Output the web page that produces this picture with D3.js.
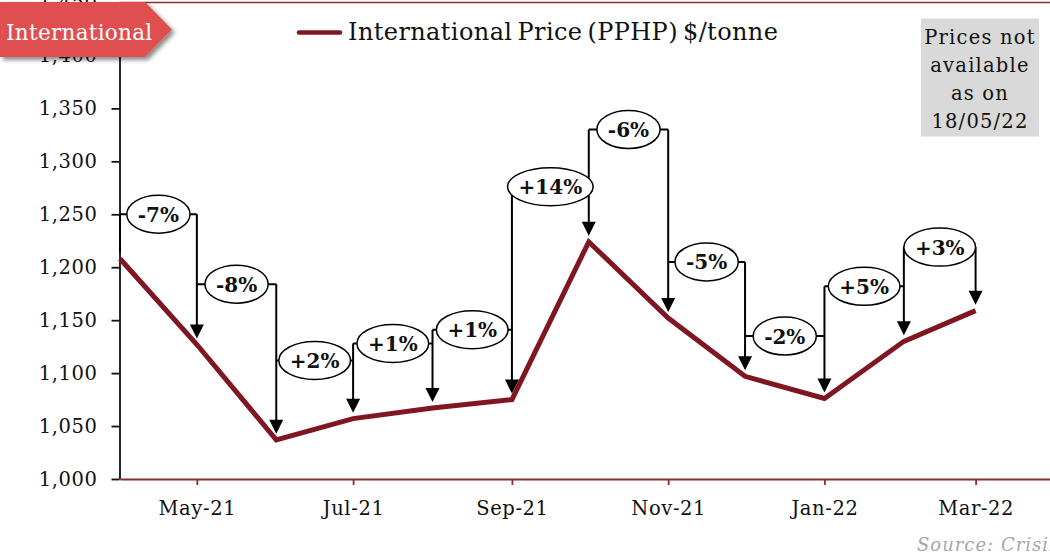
<!DOCTYPE html>
<html>
<head>
<meta charset="utf-8">
<script src="https://cdn.jsdelivr.net/npm/d3@7"></script>
<style>
  html, body { margin: 0; padding: 0; background: #ffffff; }
  svg { display: block; }
  text { font-family: "DejaVu Serif", "Liberation Serif", serif; }
</style>
</head>
<body>
<svg id="chart" width="1050" height="557"></svg>
<script>
// Monthly international price (PPHP), $/tonne
const months = ["2021-04", "2021-05", "2021-06", "2021-07", "2021-08", "2021-09",
                "2021-10", "2021-11", "2021-12", "2022-01", "2022-02", "2022-03"];
const prices = [1208, 1127, 1037, 1057, 1067, 1075, 1224, 1152, 1097, 1076, 1130, 1159];

// Month-on-month change labels (one per step between consecutive months)
const changeLabels = ["-7%", "-8%", "+2%", "+1%", "+1%", "+14%", "-6%", "-5%", "-2%", "+5%", "+3%"];

// Price level (in $/tonne) at which each change bubble sits
const bubbleLevels = [1250, 1184, 1112, 1128, 1141, 1276, 1330, 1205, 1135, 1182, 1219];

// Axis ticks
const yTickValues = [1000, 1050, 1100, 1150, 1200, 1250, 1300, 1350, 1400, 1450];
const xTickMonths = ["2021-05", "2021-07", "2021-09", "2021-11", "2022-01", "2022-03"];

const noteLines = ["Prices not", "available", "as on", "18/05/22"];

(function drawChart() {
  const parse = d3.timeParse("%Y-%m");
  const dates = months.map(parse);
  const series = dates.map((d, i) => ({ date: d, value: prices[i] }));

  const svg = d3.select("#chart");
  const W = 1050, H = 557;
  const plotLeft = 119.5, plotBottom = 479, plotTop = 2.5;

  svg.append("rect").attr("width", W).attr("height", H).attr("fill", "#ffffff");

  const x = d3.scaleTime()
    .domain([parse("2021-04"), parse("2022-04")])
    .range([120, 1055]);
  const y = d3.scaleLinear()
    .domain([1000, 1450])
    .range([plotBottom, plotTop]);

  const LINE = "#7f1622";
  const AXISRED = "#8e2a2a";

  // plot frame (top edge)
  svg.append("line")
    .attr("x1", plotLeft).attr("x2", W).attr("y1", plotTop).attr("y2", plotTop)
    .attr("stroke", AXISRED).attr("stroke-width", 1.5);

  // y axis
  const yAxis = svg.append("g")
    .attr("transform", `translate(${plotLeft},0)`)
    .call(d3.axisLeft(y).tickValues(yTickValues).tickFormat(d3.format(","))
      .tickSize(8).tickSizeOuter(0).tickPadding(14));
  yAxis.select(".domain").attr("stroke", "#1a0a0a").attr("stroke-width", 1.8);
  yAxis.selectAll(".tick line").attr("stroke", "#111").attr("stroke-width", 1.8);
  yAxis.selectAll(".tick text")
    .attr("fill", "#111").attr("font-size", 19.5).attr("letter-spacing", 0.6)
    .attr("font-family", "DejaVu Serif");

  // x axis
  const xAxis = svg.append("g")
    .attr("transform", `translate(0,${plotBottom})`)
    .call(d3.axisBottom(x).tickValues(xTickMonths.map(parse))
      .tickFormat(d3.timeFormat("%b-%y")).tickSize(6).tickSizeOuter(0).tickPadding(16));
  xAxis.select(".domain").attr("stroke", AXISRED).attr("stroke-width", 2.2);
  xAxis.selectAll(".tick line").attr("stroke", AXISRED).attr("stroke-width", 1.8);
  xAxis.selectAll(".tick text")
    .attr("fill", "#111").attr("font-size", 19.5).attr("letter-spacing", 0.6)
    .attr("font-family", "DejaVu Serif");

  // price line
  svg.append("path")
    .datum(series)
    .attr("fill", "none")
    .attr("stroke", LINE)
    .attr("stroke-width", 5)
    .attr("stroke-linejoin", "miter")
    .attr("d", d3.line().x(d => x(d.date)).y(d => y(d.value)));

  // change callouts: bubble between two months, arrow down onto the later month
  const callouts = changeLabels.map((label, i) => ({
    label,
    x0: x(dates[i]), x1: x(dates[i + 1]),
    y0: y(prices[i]), y1: y(prices[i + 1]),
    cy: y(bubbleLevels[i])
  }));

  const gC = svg.append("g");
  const head = 14, gap = 6;
  const bubbleFont = 20;

  // measure label widths to size the bubbles
  const probe = svg.append("text").attr("font-size", bubbleFont).attr("font-weight", "bold")
    .attr("font-family", "DejaVu Serif");
  callouts.forEach(c => {
    probe.text(c.label);
    c.w = probe.node().getComputedTextLength();
    c.cx = (c.x0 + c.x1) / 2;
    c.rx = c.w / 2 + 11;
    c.ry = 19;
  });
  probe.remove();

  callouts.forEach((c, i) => {
    const next = callouts[i + 1];
    const topY = next ? Math.min(c.cy, next.cy) : c.cy;
    const tip = c.y1 - gap;
    gC.append("path")
      .attr("d", `M${c.x0},${c.cy}H${c.x1}`)
      .attr("stroke", "#000").attr("stroke-width", 2).attr("fill", "none");
    gC.append("path")
      .attr("d", `M${c.x1},${topY}V${tip - head + 1}`)
      .attr("stroke", "#000").attr("stroke-width", 2).attr("fill", "none");
    if (i === 0) {
      gC.append("path")
        .attr("d", `M${c.x0},${c.cy}V${c.y0 - 6}`)
        .attr("stroke", "#000").attr("stroke-width", 2).attr("fill", "none");
    }
    gC.append("path")
      .attr("d", `M${c.x1 - 7},${tip - head}L${c.x1 + 7},${tip - head}L${c.x1},${tip}Z`)
      .attr("fill", "#000");
  });

  callouts.forEach(c => {
    gC.append("ellipse")
      .attr("cx", c.cx).attr("cy", c.cy).attr("rx", c.rx).attr("ry", c.ry)
      .attr("fill", "#fff").attr("stroke", "#000").attr("stroke-width", 1.5);
    gC.append("text")
      .attr("x", c.cx).attr("y", c.cy + 7.5)
      .attr("text-anchor", "middle")
      .attr("font-size", bubbleFont).attr("font-weight", "bold").attr("fill", "#111")
      .text(c.label);
  });

  // legend
  svg.append("line")
    .attr("x1", 299).attr("x2", 340).attr("y1", 32.5).attr("y2", 32.5)
    .attr("stroke", LINE).attr("stroke-width", 4.5).attr("stroke-linecap", "round");
  svg.append("text")
    .attr("x", 348).attr("y", 40)
    .attr("font-size", 24).attr("fill", "#111")
    .attr("word-spacing", -3).attr("letter-spacing", 0.4)
    .text("International Price (PPHP) $/tonne");

  // note box
  svg.append("rect")
    .attr("x", 921).attr("y", 18.5).attr("width", 118).attr("height", 118)
    .attr("fill", "#d9d9d9");
  svg.append("g").selectAll("text")
    .data(noteLines)
    .join("text")
    .attr("x", 980).attr("y", (d, i) => 44 + i * 28)
    .attr("text-anchor", "middle")
    .attr("font-size", 19.5).attr("letter-spacing", 1.2).attr("fill", "#111")
    .text(d => d);

  // section tag
  const defs = svg.append("defs");
  const f = defs.append("filter").attr("id", "tagShadow")
    .attr("x", "-10%").attr("y", "-20%").attr("width", "130%").attr("height", "160%");
  f.append("feDropShadow").attr("dx", 3).attr("dy", 3).attr("stdDeviation", 2.2)
    .attr("flood-color", "#000").attr("flood-opacity", 0.45);

  svg.append("path")
    .attr("d", "M0,2H145L172,29.5L145,57H0Z")
    .attr("fill", "#df5050")
    .attr("filter", "url(#tagShadow)");
  svg.append("text")
    .attr("x", 6).attr("y", 39.5)
    .attr("font-size", 21.5).attr("fill", "#ffffff").attr("letter-spacing", 0.3)
    .text("International");

  // source
  svg.append("text")
    .attr("x", 917).attr("y", 551)
    .attr("font-size", 18).attr("font-style", "italic").attr("fill", "#a6a6a6")
    .attr("letter-spacing", 1)
    .text("Source: Crisil");
})();
</script>
</body>
</html>
